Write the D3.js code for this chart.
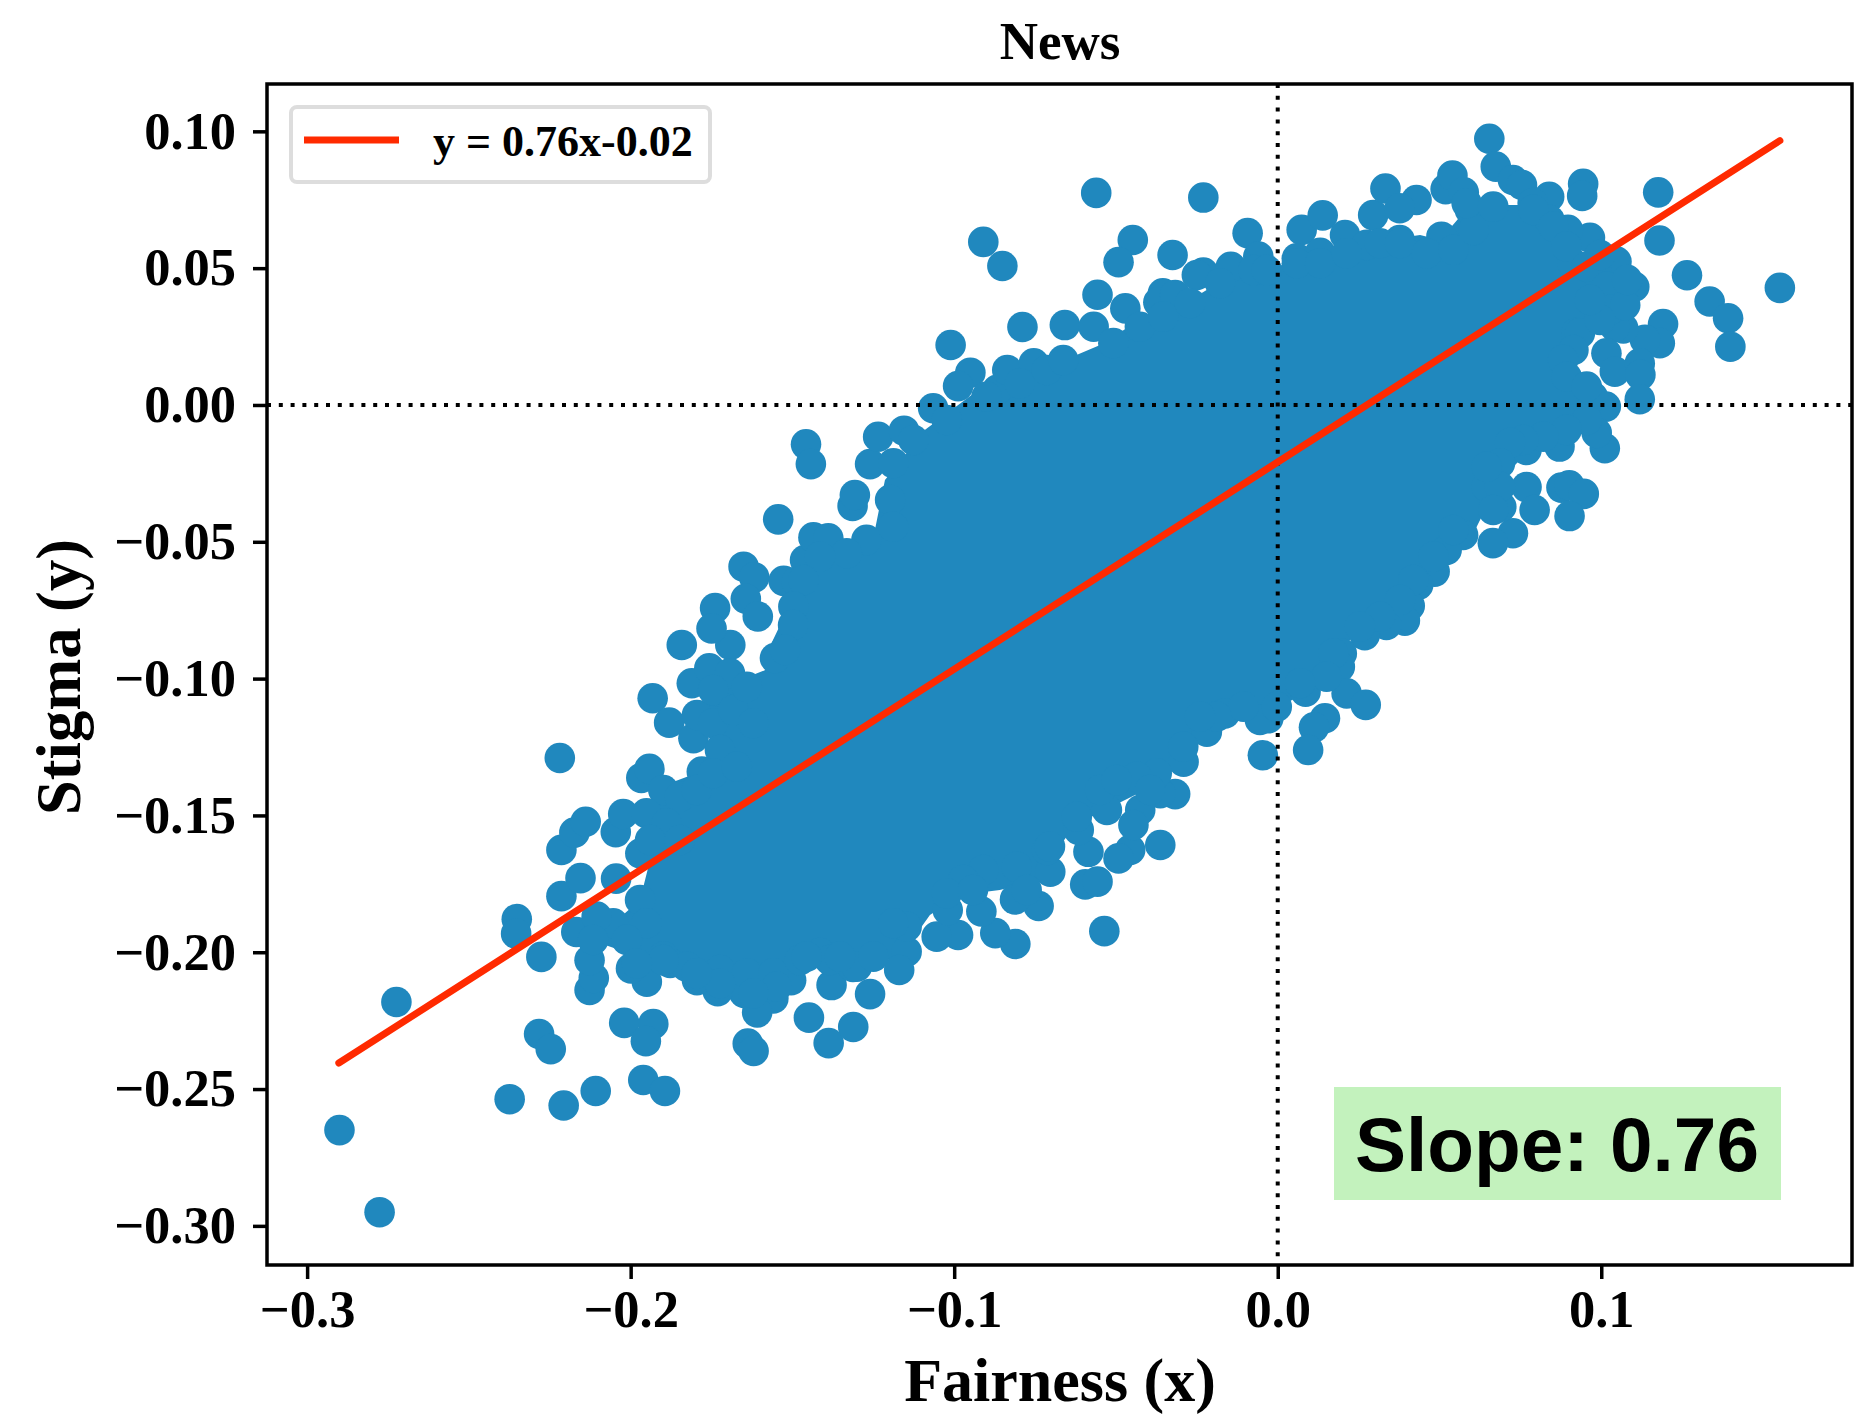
<!DOCTYPE html>
<html>
<head>
<meta charset="utf-8">
<script src="https://cdn.jsdelivr.net/npm/d3@7"></script>
<style>
html, body { margin: 0; padding: 0; background: #fff; }
svg { display: block; }
text { font-family: "Liberation Serif", serif; font-weight: bold; fill: #000; }
</style>
</head>
<body>
<div id="chart"></div>
<script>
// points that can be told apart in the picture (outliers and the edge of the cloud)
var pointX = [
-.2900,-.2776,-.2724,-.2374,-.2207,-.2108,-.1961,-.1894,-.2283,-.2247,
-.2020,-.1930,-.1953,-.1638,-.1620,-.1449,-.1388,-.1312,-.0811,-.0536,
-.2352,-.2354,-.2276,-.2127,-.2114,-.2127,-.2168,-.2214,-.2155,-.2045,
-.2214,-.2174,-.2139,-.2046,-.2023,-.1970,-.2219,-.1967,-.1942,-.1932,
-.1881,-.1806,-.1795,-.1811,-.1757,-.1842,-.1692,-.1780,-.1554,-.1651,
-.1618,-.1644,-.1607,-.1739,-.1750,-.1736,-.1544,-.1458,-.1443,-.1527,
-.1487,-.1461,-.1435,-.1389,-.1271,-.1314,-.1307,-.1260,-.1235,-.1155,
-.1065,-.1011,-.0950,-.0988,-.0867,-.0836,-.0754,-.0910,-.0851,-.0789,
-.0658,-.0561,-.0230,-.0448,-.0492,-.0325,-.0557,-.0471,-.0569,-.0355,
-.0369,-.0317,-.0230,-.0250,-.0145,-.0093,-.0060,.0074,.0139,.0059,
.0208,.0295,.0333,.0429,.0377,.0519,.0540,.0575,.0654,.0674,
.0727,.0755,.0839,.0944,.0941,.1176,.1180,.1265,.1335,.1392,
.1399,.1552,.0965,.0897,.1047,.1102,.1191,.1181,.1135,.1068,
.1042,.1016,.1042,.1119,.1121,.1119,.1014,.0974,.1011,.0986,
.0871,.0769,.0769,.0877,.0901,.0946,.0902,.0794,.0727,.0665,
.0691,.0573,.0522,.0485,.0434,.0408,.0393,.0336,.0269,.0198,
.0192,.0213,.0272,.0146,.0112,.0094,-.0046,.0086,-.0029,-.0055,
-.0163,-.0219,-.0291,-.0317,-.0363,-.0425,-.0528,-.0363,-.0456,-.0492,
-.0446,-.0585,-.0595,-.0557,-.0615,-.0703,-.0713,-.0739,-.0812,-.0873,
-.0916,-.0988,-.1054,-.1020,-.1147,-.1170,-.1147,-.1260,-.1379,-.1313,
-.1415,-.1504,-.1559,-.1609,-.1649,-.1731,-.1795,-.1878,-.1950,-.1999,
.0594,.0788,.0840,.0911,.0986,.1036,.0923,.0506,.0275,.0377,.0131
];
var pointY = [
-.2650,-.2950,-.2182,-.2537,-.2560,-.2507,-.2467,-.2507,-.2299,-.2354,
-.2258,-.2262,-.2325,-.2334,-.2361,-.2239,-.2332,-.2273,-.1970,-.1923,
-.1879,-.1932,-.2017,-.2138,-.2094,-.2029,-.1926,-.1795,-.1729,-.1731,
-.1626,-.1563,-.1523,-.1561,-.1495,-.1639,-.1290,-.1363,-.1330,-.1072,
-.1161,-.1218,-.1133,-.1017,-.0962,-.0877,-.0877,-.1340,-.0925,-.0591,
-.0630,-.0708,-.0773,-.0742,-.0817,-.1045,-.0418,-.0144,-.0216,-.0643,
-.0646,-.0567,-.0484,-.0487,-.0493,-.0369,-.0329,-.0216,-.0116,-.0094,
-.0012,.0219,.0118,.0069,.0055,.0128,.0152,.0596,.0508,.0285,
.0292,.0775,.0758,.0603,.0522,.0548,.0403,.0353,.0286,.0408,
.0375,.0402,.0484,.0475,.0505,.0628,.0542,.0640,.0693,.0536,
.0621,.0694,.0791,.0749,.0719,.0789,.0838,.0777,.0973,.0871,
.0822,.0804,.0761,.0808,.0764,.0777,.0601,.0474,.0378,.0317,
.0213,.0428,.0611,.0640,.0524,.0432,.0296,.0226,.0238,.0280,
.0286,.0189,.0122,.0152,.0110,.0021,-.0006,.0030,-.0158,-.0102,
-.0152,-.0164,-.0300,-.0302,-.0294,-.0325,-.0406,-.0384,-.0469,-.0505,
-.0372,-.0475,-.0530,-.0609,-.0658,-.0734,-.0788,-.0804,-.0841,-.0908,
-.0957,-.1054,-.1096,-.1145,-.1178,-.1261,-.1280,-.1048,-.1145,-.1151,
-.1127,-.1194,-.1304,-.1422,-.1419,-.1480,-.1480,-.1608,-.1626,-.1657,
-.1535,-.1633,-.1752,-.1742,-.1553,-.1706,-.1626,-.1831,-.1807,-.1930,
-.1851,-.1937,-.1943,-.1846,-.1998,-.2065,-.1907,-.2153,-.2120,-.2054,
-.2003,-.2102,-.2169,-.2220,-.2149,-.2142,-.2102,-.2039,-.2108,-.2059,
.0713,.0738,.0676,.0519,.0482,.0373,.0263,.0615,.0585,.0603,.0556
];

// points just inside the rim of the cloud, estimated from its scalloped outline
var rimX = [
-.1693,-.1745,-.1745,-.1683,-.1724,-.1641,-.1621,-.1899,-.1848,-.1951,
-.1889,-.1940,-.1848,-.1796,-.1745,-.1672,-.1971,-.1951,-.2054,-.2105,
-.2012,-.1899,-.1827,-.1724,-.1641,-.1559,-.1477,-.1384,-.1301,-.2116,
-.0900,-.0797,-.0714,-.0663,-.1023,-.1126,-.1188,-.1198,-.1189,-.1332,
-.1415,-.1466,-.1497,-.1498,-.1523,-.0508,-.0426,-.0354,-.0271,-.0178,
-.0075,-.0034,.0059,.0131,.0213,.0316,.0378,.0461,.0543,.0605,
.0584,.0666,.0790,.0852,.0893,.0955,.1017,.1027,.0934,.0914,
.0882,.0893,.0955,.0955,.0893,.0821,.0759,.0718,.0687,.0646,
.0687,.0543,.0481,.0419,.0378,.0316,.0254,.0172,.0151,.0069,
-.0003,-.0106,-.0189,.0666,.0646,-.0240,-.0292,-.0374,-.0436,-.0549,
-.0621,-.0704,-.0807,-.0776,-.0910,-.0972,-.0395,-.0498,-.1188,-.1250,
-.1353,-.1456,-.1549,-.1621,-.1724,-.1796,-.1899,-.1981,-.1023,-.0942,
.1074,.1080,.0996,.0996,.0965
];
var rimY = [
-.0981,-.1042,-.1163,-.1115,-.1261,-.1030,-.1163,-.1407,-.1432,-.1492,
-.1529,-.1590,-.1590,-.1407,-.1346,-.1322,-.1809,-.1894,-.1894,-.1870,
-.1955,-.2016,-.2053,-.2065,-.2077,-.2077,-.2029,-.2029,-.2053,-.1955,
.0030,.0079,.0128,.0164,-.0055,-.0128,-.0213,-.0347,-.0445,-.0542,
-.0554,-.0640,-.0737,-.0804,-.0895,.0226,.0286,.0323,.0372,.0445,
.0493,.0493,.0518,.0518,.0554,.0591,.0591,.0554,.0567,.0640,
.0737,.0725,.0713,.0652,.0579,.0505,.0432,.0347,.0262,.0201,
.0164,.0103,.0067,-.0055,-.0091,-.0116,-.0128,-.0139,-.0213,-.0299,
-.0299,-.0457,-.0554,-.0640,-.0713,-.0774,-.0810,-.0908,-.0993,-.1017,
-.1103,-.1103,-.1139,-.0384,-.0226,-.1139,-.1249,-.1346,-.1359,-.1407,
-.1505,-.1614,-.1688,-.1773,-.1700,-.1736,-.1407,-.1371,-.1894,-.2016,
-.2016,-.2016,-.2126,-.2150,-.2114,-.2077,-.2029,-.2041,-.1785,-.1773,
.0365,.0457,.0548,.0311,.0384
];

// the middle of the cloud is solid colour, no single point can be read there,
// so it is drawn as an outline in data values
var coreX = [-.2079,-.2095,-.1971,-.1940,-.1940,-.1894,-.1770,-.1755,-.1770,-.1662,-.1584,-.1560,-.1501,-.1415,-.1245,-.1214,-.1090,-.0905,-.0766,-.0549,-.0426,-.0271,-.0117,-.0008,.0053,.0225,.0440,.0502,.0594,.0780,.0857,.0904,.0981,.0965,.0919,.0904,.0981,.0996,.0811,.0718,.0656,.0610,.0517,.0471,.0409,.0378,.0223,.0177,.0100,-.0039,-.0209,-.0287,-.0348,-.0472,-.0627,-.0704,-.0735,-.0859,-.0982,-.1075,-.1152,-.1229,-.1477,-.1600,-.1786,-.1940];
var coreY = [-.1974,-.1937,-.1809,-.1663,-.1444,-.1389,-.1334,-.1206,-.1078,-.1005,-.0969,-.0859,-.0713,-.0567,-.0457,-.0274,-.0091,.0073,.0110,.0219,.0311,.0384,.0493,.0493,.0548,.0585,.0621,.0603,.0731,.0731,.0658,.0548,.0439,.0311,.0219,.0146,.0037,-.0073,-.0128,-.0238,-.0347,-.0457,-.0512,-.0603,-.0713,-.0768,-.0859,-.0969,-.1042,-.1133,-.1170,-.1279,-.1371,-.1444,-.1535,-.1663,-.1736,-.1773,-.1791,-.1864,-.1992,-.2047,-.2029,-.2138,-.2083,-.2029];

// fitted line, read at its two ends
var fitX = [-.2902, .1552];
var fitY = [-.2405, .0966];

var xTicks = [-.3, -.2, -.1, 0, .1];
var yTicks = [.10, .05, 0, -.05, -.10, -.15, -.20, -.25, -.30];

var legendLabel = "y = 0.76x-0.02";
var slopeLabel = "Slope: 0.76";

var width = 1859, height = 1418;
var margin = {top: 84, right: 7, bottom: 153, left: 267};
var blue = "#2088be", red = "#ff2a00";

var svg = d3.select("#chart").append("svg")
    .attr("width", width)
    .attr("height", height);

var x = d3.scaleLinear()
    .domain([-.3124, .1775])
    .range([margin.left, width - margin.right]);

var y = d3.scaleLinear()
    .domain([-.3143, .1173])
    .range([height - margin.bottom, margin.top]);

// cloud
var coreLine = d3.line()
    .x(function(d, i) { return x(coreX[i]); })
    .y(function(d, i) { return y(coreY[i]); });

svg.append("path")
    .attr("class", "core")
    .attr("d", coreLine(coreX) + "Z")
    .style("fill", blue);

var allX = pointX.concat(rimX), allY = pointY.concat(rimY);

svg.append("g")
    .attr("class", "points")
    .selectAll("circle")
    .data(allX)
    .enter().append("circle")
    .attr("cx", function(d) { return x(d); })
    .attr("cy", function(d, i) { return y(allY[i]); })
    .attr("r", 15.3)
    .style("fill", blue);

// zero lines
svg.append("line")
    .attr("x1", x(0)).attr("x2", x(0))
    .attr("y1", y.range()[1]).attr("y2", y.range()[0])
    .style("stroke", "#000").style("stroke-width", 4).style("stroke-dasharray", "4 7.8");
svg.append("line")
    .attr("x1", x.range()[0]).attr("x2", x.range()[1])
    .attr("y1", y(0)).attr("y2", y(0))
    .style("stroke", "#000").style("stroke-width", 4).style("stroke-dasharray", "4 7.8");

// fit
var fitLine = d3.line()
    .x(function(d, i) { return x(fitX[i]); })
    .y(function(d, i) { return y(fitY[i]); });

svg.append("path")
    .attr("d", fitLine(fitX))
    .style("fill", "none")
    .style("stroke", red)
    .style("stroke-width", 7)
    .style("stroke-linecap", "round");

// frame
svg.append("rect")
    .attr("x", x.range()[0]).attr("y", y.range()[1])
    .attr("width", x.range()[1] - x.range()[0])
    .attr("height", y.range()[0] - y.range()[1])
    .style("fill", "none").style("stroke", "#000").style("stroke-width", 3.5);

// axes
var xAxis = svg.append("g")
    .attr("transform", "translate(0," + y.range()[0] + ")")
    .call(d3.axisBottom(x).tickValues(xTicks).tickFormat(d3.format(".1f")).tickSize(14).tickPadding(11));
var yAxis = svg.append("g")
    .attr("transform", "translate(" + x.range()[0] + ",0)")
    .call(d3.axisLeft(y).tickValues(yTicks).tickFormat(d3.format(".2f")).tickSize(14).tickPadding(17));

[xAxis, yAxis].forEach(function(a) {
    a.select(".domain").remove();
    a.selectAll("line").style("stroke", "#000").style("stroke-width", 3.5);
    a.selectAll("text").style("font-size", "52.5px").style("font-family", '"Liberation Serif", serif');
});

// titles
svg.append("text")
    .attr("x", 1060).attr("y", 59)
    .attr("text-anchor", "middle")
    .style("font-size", "53px")
    .text("News");
svg.append("text")
    .attr("x", 1060).attr("y", 1401)
    .attr("text-anchor", "middle")
    .style("font-size", "62px")
    .text("Fairness (x)");
svg.append("text")
    .attr("transform", "translate(80,677) rotate(-90)")
    .attr("text-anchor", "middle")
    .style("font-size", "62.5px")
    .text("Stigma (y)");

// legend
svg.append("rect")
    .attr("x", 291).attr("y", 107)
    .attr("width", 419).attr("height", 75)
    .attr("rx", 6)
    .style("fill", "#fff").style("stroke", "#ddd").style("stroke-width", 4);
svg.append("line")
    .attr("x1", 304).attr("x2", 399)
    .attr("y1", 140).attr("y2", 140)
    .style("stroke", red).style("stroke-width", 7);
svg.append("text")
    .attr("x", 433).attr("y", 156)
    .style("font-size", "44px")
    .text(legendLabel);

// slope box
svg.append("rect")
    .attr("x", 1334).attr("y", 1087)
    .attr("width", 447).attr("height", 113)
    .style("fill", "#c3f2bd");
svg.append("text")
    .attr("x", 1557).attr("y", 1171)
    .attr("text-anchor", "middle")
    .style("font-family", '"Liberation Sans", sans-serif')
    .style("font-size", "76.5px")
    .text(slopeLabel);
</script>
</body>
</html>
